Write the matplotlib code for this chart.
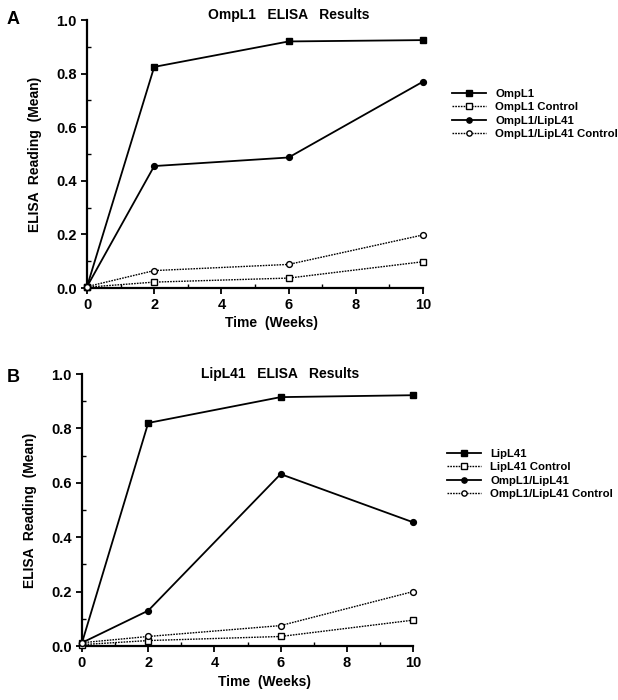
import matplotlib
matplotlib.use("Agg")
import matplotlib.pyplot as plt
from matplotlib.lines import Line2D
from matplotlib.ticker import MultipleLocator

plt.rcParams["font.family"] = ["Liberation Sans", "DejaVu Sans"]
plt.rcParams["font.weight"] = "bold"

weeks = [0, 2, 6, 10]

# panel A
ompl1 = [0.005, 0.825, 0.92, 0.925]
ompl1_ctrl = [0.003, 0.022, 0.037, 0.098]
combo_a = [0.005, 0.455, 0.487, 0.77]
combo_a_ctrl = [0.005, 0.065, 0.088, 0.198]

# panel B
lipl41 = [0.012, 0.82, 0.915, 0.922]
lipl41_ctrl = [0.005, 0.02, 0.035, 0.095]
combo_b = [0.012, 0.13, 0.632, 0.455]
combo_b_ctrl = [0.012, 0.035, 0.075, 0.2]

xticks = [0, 2, 4, 6, 8, 10]
yticks = [0.0, 0.2, 0.4, 0.6, 0.8, 1.0]

fig = plt.figure(figsize=(6.18, 7.0), dpi=100)

styles = [
    dict(ls="-", marker="s", mfc="black", lw=1.3),
    dict(ls=(0, (1.2, 0.8)), marker="s", mfc="white", lw=1.0),
    dict(ls="-", marker="o", mfc="black", lw=1.3),
    dict(ls=(0, (1.2, 0.8)), marker="o", mfc="white", lw=1.0),
]


def draw_panel(rect, series, labels, title, letter, letter_pos, title_xy, leg_pos):
    ax = fig.add_axes(rect)
    for vals, st in zip(series, styles):
        ax.plot(weeks, vals, color="black", ms=4.2, mec="black", mew=1.0,
                clip_on=False, zorder=3, **st)
    ax.set_xlim(0, 10)
    ax.set_ylim(0, 1.0)
    ax.set_xticks(xticks)
    ax.set_yticks(yticks)
    ax.set_yticklabels([f"{t:.1f}" for t in yticks])
    ax.xaxis.set_minor_locator(MultipleLocator(1))
    ax.yaxis.set_minor_locator(MultipleLocator(0.1))
    ax.tick_params(which="major", direction="out", length=4, width=1.3,
                   labelsize=10.5)
    ax.tick_params(which="minor", direction="in", length=3, width=1.0)
    for s in ["top", "right"]:
        ax.spines[s].set_visible(False)
    for s in ["left", "bottom"]:
        ax.spines[s].set_linewidth(1.6)
    for lab in ax.get_xticklabels() + ax.get_yticklabels():
        lab.set_fontweight("bold")
    ax.set_ylabel("ELISA  Reading  (Mean)", fontsize=10, fontweight="bold",
                  labelpad=10)
    ax.set_xlabel("Time  (Weeks)", fontsize=10, fontweight="bold")
    ax.xaxis.set_label_coords(0.55, -0.105)
    ax.text(title_xy[0], title_xy[1], title, transform=ax.transAxes,
            ha="center", va="center", fontsize=10, fontweight="bold")
    fig.text(letter_pos[0], letter_pos[1], letter, fontsize=13,
             fontweight="bold", ha="left", va="center")
    handles = [Line2D([], [], color="black", ms=3.8, mec="black", mew=1.0, **st)
               for st in styles]
    fig.legend(handles, labels, loc="upper left", bbox_to_anchor=leg_pos,
               frameon=False, handlelength=3.0, handletextpad=0.8,
               labelspacing=0.3, borderpad=0, borderaxespad=0,
               prop=dict(size=8.2, weight="bold"))
    return ax


draw_panel([87 / 618, 1 - 288 / 700, 336 / 618, 268 / 700],
           [ompl1, ompl1_ctrl, combo_a, combo_a_ctrl],
           ["OmpL1", "OmpL1 Control", "OmpL1/LipL41", "OmpL1/LipL41 Control"],
           "OmpL1   ELISA   Results", "A", (7 / 618, 1 - 20 / 700),
           (0.6, 1.02), (452 / 618, 1 - 89 / 700))

draw_panel([82 / 618, 1 - 646 / 700, 331 / 618, 272 / 700],
           [lipl41, lipl41_ctrl, combo_b, combo_b_ctrl],
           ["LipL41", "LipL41 Control", "OmpL1/LipL41", "OmpL1/LipL41 Control"],
           "LipL41   ELISA   Results", "B", (7 / 618, 1 - 377 / 700),
           (0.6, 1.0), (447 / 618, 1 - 449 / 700))

fig.savefig("out.png", dpi=100)
